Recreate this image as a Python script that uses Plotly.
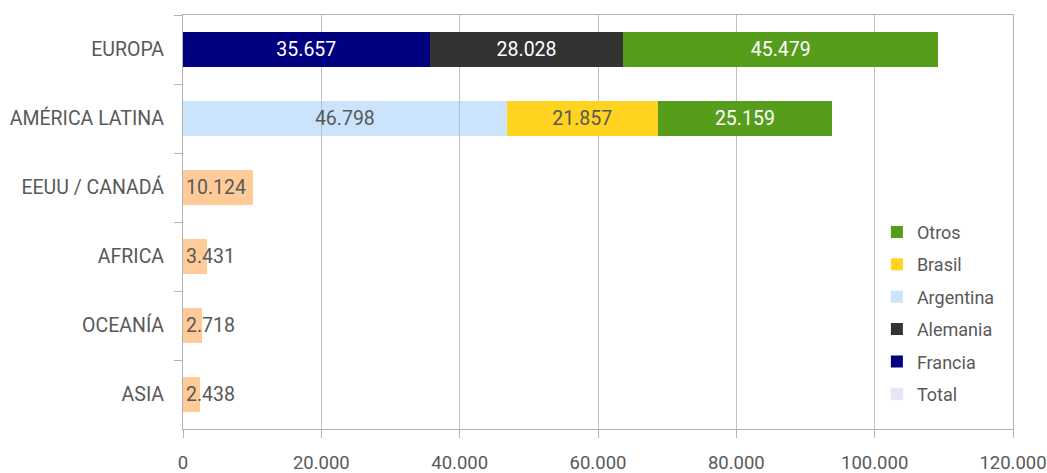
import plotly.graph_objs as go

regiones = ["EUROPA", "AMÉRICA LATINA", "EEUU / CANADÁ", "AFRICA", "OCEANÍA", "ASIA"]

total = [None, None, 10124, 3431, 2718, 2438]
francia = [35657, None, None, None, None, None]
alemania = [28028, None, None, None, None, None]
argentina = [None, 46798, None, None, None, None]
brasil = [None, 21857, None, None, None, None]
otros = [45479, 25159, None, None, None, None]

x_ticks = [0, 20000, 40000, 60000, 80000, 100000, 120000]

grey_text = "#595959"
font_family = "Roboto, Arial, sans-serif"
fs = 19.5

series = [
    # name, values, bar colour, text colour, legend rank
    ("Francia", francia, "#000080", "white", 5),
    ("Alemania", alemania, "#333333", "white", 4),
    ("Argentina", argentina, "rgba(153,202,248,0.5)", grey_text, 3),
    ("Brasil", brasil, "#ffd320", grey_text, 2),
    ("Otros", otros, "#579d1c", "white", 1),
]

fig = go.Figure()

# peach bars for single-value regions, legend entry added separately
fig.add_trace(go.Bar(
    y=regiones, x=total, orientation="h", name="Total",
    marker=dict(color="#ffcc99", line=dict(width=0)),
    texttemplate="%{x:,}", textposition="inside", insidetextanchor="start",
    textangle=0, constraintext="none", cliponaxis=False,
    textfont=dict(color=grey_text, size=fs, family=font_family),
    showlegend=False, legendgroup="total", hoverinfo="x+name",
))

for name, vals, col, tcol, rank in series:
    fig.add_trace(go.Bar(
        y=regiones, x=vals, orientation="h", name=name, legendgroup=name,
        legendrank=rank,
        marker=dict(color=col, line=dict(width=0)),
        texttemplate="%{x:,}", textposition="inside", insidetextanchor="middle",
        textangle=0,
        textfont=dict(color=tcol, size=fs, family=font_family),
    ))

# legend-only entry for Total
fig.add_trace(go.Bar(
    y=[None], x=[None], orientation="h", name="Total", legendgroup="total",
    legendrank=6, marker=dict(color="#e6e6fa"),
))

fig.update_layout(
    width=1047, height=473,
    barmode="stack", bargap=0.5,
    separators=",.",
    plot_bgcolor="white", paper_bgcolor="white",
    font=dict(family=font_family, size=fs, color=grey_text),
    margin=dict(l=183, r=34, t=15, b=44, autoexpand=False),
    legend=dict(
        x=0.836, y=0.52, xanchor="left", yanchor="top",
        traceorder="grouped", tracegroupgap=6,
        font=dict(size=18, color=grey_text), bgcolor="rgba(0,0,0,0)",
        itemclick=False,
    ),
)

fig.update_xaxes(
    range=[0, 120000], tickvals=x_ticks, tickformat=",",
    showgrid=True, gridcolor="#c0c0c0", gridwidth=1,
    showline=True, linecolor="#b3b3b3", linewidth=1, mirror=True,
    ticks="outside", ticklen=8, tickcolor="#b3b3b3",
    ticklabelstandoff=9, ticklabeloverflow="allow",
    zeroline=False, automargin=False,
    tickfont=dict(size=18.5, color=grey_text),
)
fig.update_yaxes(
    autorange="reversed", type="category",
    showline=True, linecolor="#b3b3b3", linewidth=1, mirror=True,
    ticks="outside", ticklen=8, tickcolor="#b3b3b3", tickson="boundaries",
    showgrid=False, automargin=False, ticklabelstandoff=14,
    tickfont=dict(size=fs, color=grey_text),
)

# drop the default 8px page margin so the figure fills the window
fig.write_html("out.html", config={"displayModeBar": False},
               post_script="document.body.style.margin = '0';")
